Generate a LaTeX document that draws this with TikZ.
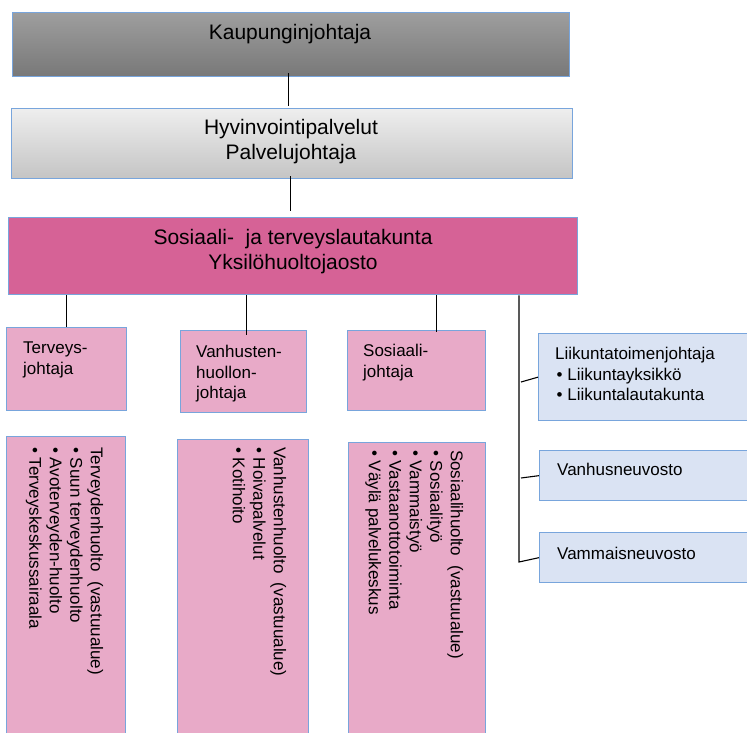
\documentclass[tikz,border=0pt]{standalone}
\usepackage{fontspec}
\setmainfont{Liberation Sans}
\definecolor{bordc}{RGB}{120,165,220}
\definecolor{gtop}{RGB}{158,158,158}
\definecolor{gbot}{RGB}{120,120,120}
\definecolor{ltop}{RGB}{238,238,238}
\definecolor{lbot}{RGB}{196,196,196}
\definecolor{magen}{RGB}{214,98,150}
\definecolor{pinkb}{RGB}{232,170,200}
\definecolor{blueb}{RGB}{218,227,243}
\tikzset{
  boxbase/.style={draw=bordc, line width=1.3pt, rectangle, inner sep=0pt, anchor=north west},
  conn/.style={draw=black, line width=1.1pt},
  bigtext/.style={font=\fontsize{21}{25}\selectfont, align=center, inner sep=0pt},
  smalltext/.style={font=\fontsize{17}{20.5}\selectfont, align=left, inner sep=0pt, anchor=north west},
  coltext/.style={font=\fontsize{17}{20.5}\selectfont, align=left, inner sep=0pt, anchor=north west, rotate=-90}
}
\begin{document}
\begin{tikzpicture}[x=1pt,y=-1pt]
\clip (0,0) rectangle (747,733);
\fill[white] (0,0) rectangle (747,733);
% top boxes
\node[boxbase, top color=gtop, bottom color=gbot, minimum width=557pt, minimum height=64pt] (k) at (12,12) {};
\node[boxbase, top color=ltop, bottom color=lbot, minimum width=561pt, minimum height=70pt] (h) at (11,108) {};
\node[boxbase, fill=magen, minimum width=569pt, minimum height=77pt] (s) at (8,217) {};
\node[bigtext] (kt) at (290,34) {Kaupunginjohtaja};
\node[bigtext] (ht) at (291,142) {Hyvinvointipalvelut\\Palvelujohtaja};
\node[bigtext] (st) at (293,252) {Sosiaali-\ \ ja terveyslautakunta\\Yksilöhuoltojaosto};
% small boxes
\node[boxbase, fill=pinkb, minimum width=120pt, minimum height=83pt] (tj) at (6,327) {};
\node[boxbase, fill=pinkb, minimum width=126pt, minimum height=82pt] (vj) at (180,330) {};
\node[boxbase, fill=pinkb, minimum width=138pt, minimum height=80pt] (sj) at (347,330) {};
\node[smalltext] (tjt) at (23,342) {Terveys-\\johtaja};
\node[smalltext] (vjt) at (196,345) {Vanhusten-\\huollon-\\johtaja};
\node[smalltext] (sjt) at (363,344) {Sosiaali-\\johtaja};
% columns
\node[boxbase, fill=pinkb, minimum width=119pt, minimum height=330pt] (c1) at (6,436) {};
\node[boxbase, fill=pinkb, minimum width=131pt, minimum height=330pt] (c2) at (177,439) {};
\node[boxbase, fill=pinkb, minimum width=137pt, minimum height=330pt] (c3) at (348,442) {};
\node[coltext] (c1t) at (103.5,447) {Terveydenhuolto\ \ (vastuualue)\\• Suun terveydenhuolto\\• Avoterveyden-huolto\\• Terveyskeskussairaala};
\node[coltext] (c2t) at (286.5,447) {Vanhustenhuolto\ \ (vastuualue)\\• Hoivapalvelut\\• Kotihoito};
\node[coltext] (c3t) at (463.5,450) {Sosiaalihuolto\ \ (vastuualue)\\• Sosiaalityö\\• Vammaistyö\\• Vastaanottotoiminta\\• Väylä palvelukeskus};
% right boxes
\node[boxbase, fill=blueb, minimum width=240pt, minimum height=87pt] (r1) at (538,333) {};
\node[boxbase, fill=blueb, minimum width=240pt, minimum height=50pt] (r2) at (539,450) {};
\node[boxbase, fill=blueb, minimum width=240pt, minimum height=50pt] (r3) at (539,532) {};
\node[smalltext] (r1t) at (555,347) {Liikuntatoimenjohtaja\\\hspace{1.5pt}• Liikuntayksikkö\\\hspace{1.5pt}• Liikuntalautakunta};
\node[smalltext] (r2t) at (557,463) {Vanhusneuvosto};
\node[smalltext] (r3t) at (557,547) {Vammaisneuvosto};
% connectors
\draw[conn] ([xshift=-3pt,yshift=4pt]k.south) -- ([xshift=-3pt,yshift=2pt]k.south |- h.north);
\draw[conn] ([xshift=-2pt,yshift=3pt]h.south) -- ([xshift=-2pt,yshift=6pt]h.south |- s.north);
\draw[conn] (s.south -| tj.north) -- (tj.north);
\draw[conn] ([xshift=3pt]vj.north |- s.south) -- ([xshift=3pt,yshift=-5pt]vj.north);
\draw[conn] ([xshift=20pt]sj.north |- s.south) -- ([xshift=20pt,yshift=-2pt]sj.north);
\coordinate (busx) at (519,300);
\coordinate (bus1) at (521,382);
\coordinate (bus2) at (521,478);
\coordinate (busend) at (519,562);
\draw[conn] (s.south -| busx) -- (busend) -- (r3.west);
\draw[conn] (bus1) -- (r1.west);
\draw[conn] (bus2) -- (r2.west);
\end{tikzpicture}
\end{document}
